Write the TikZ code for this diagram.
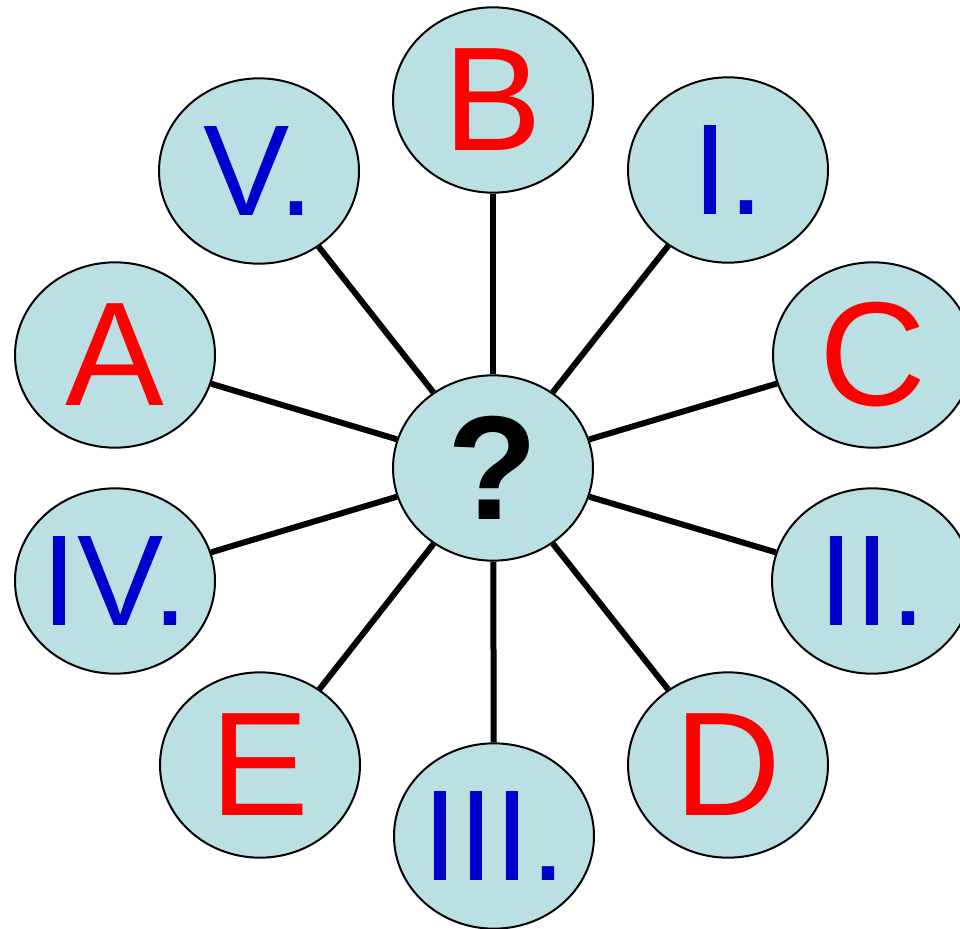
\documentclass[tikz,border=0pt]{standalone}
\usepackage{fontspec}
\setmainfont{Liberation Sans}
\usetikzlibrary{shapes.geometric}
\definecolor{bubblefill}{RGB}{187,224,227}
\definecolor{letterred}{RGB}{255,0,0}
\definecolor{numblue}{RGB}{0,0,204}
\begin{document}
\begin{tikzpicture}[x=0.75pt,y=-0.75pt,
  bubble/.style={ellipse,draw=black,line width=1.5pt,fill=bubblefill,
    minimum width=150pt,minimum height=139pt,inner xsep=-12pt,inner ysep=0pt},
  letter/.style={bubble,text=letterred,font=\fontsize{111}{111}\selectfont},
  numeral/.style={bubble,text=numblue,font=\fontsize{97}{97}\selectfont},
  spoke/.style={line width=4.5pt,black}]
\useasboundingbox (0,0) rectangle (960,928);
\node[bubble,font=\bfseries\fontsize{111}{111}\selectfont] (c) at (493,468) {?};
\node[letter] (B) at (493,100) {B};
\node[numeral] (I) at (728,170) {I.};
\node[letter] (C) at (873,355) {C};
\node[numeral] (II) at (872,581) {II.};
\node[letter] (D) at (728,765) {D};
\node[numeral] (III) at (494,836) {III.};
\node[letter] (E) at (260,765) {E};
\node[numeral] (IV) at (115,581) {IV.};
\node[letter] (A) at (115,355) {A};
\node[numeral] (V) at (259,171) {V.};
\foreach \n in {B,I,C,II,D,III,E,IV,A,V}
  \draw[spoke] (c) -- (\n);
\end{tikzpicture}
\end{document}
